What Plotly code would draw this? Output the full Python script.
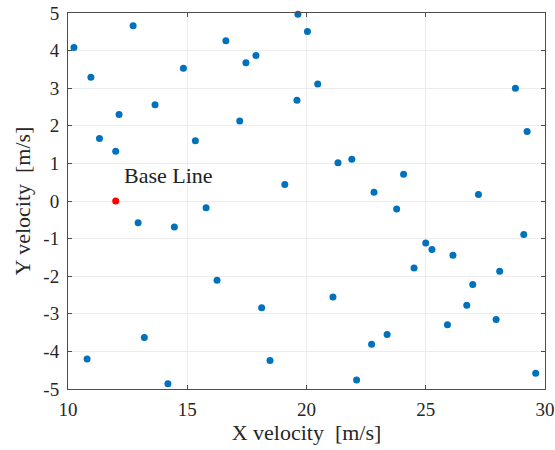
import plotly.graph_objects as go

x_vel = [10.25, 10.96, 12.73, 11.32, 12.14, 12.0, 13.65, 14.84, 15.34, 16.62, 17.46, 17.88, 17.2,
         19.64, 20.04, 20.47, 19.60, 28.76, 29.25, 21.32, 21.9, 19.09, 24.07, 22.83, 27.21,
         12.94, 14.46, 15.79, 16.25, 18.12, 13.2, 10.8, 14.19, 18.47,
         23.78, 25.0, 25.26, 26.14, 29.11, 24.51, 28.1, 26.97, 26.72, 21.11, 25.91, 27.95,
         23.38, 22.73, 22.1, 29.61]
y_vel = [4.08, 3.29, 4.66, 1.66, 2.30, 1.32, 2.56, 3.53, 1.60, 4.26, 3.68, 3.87, 2.13,
         4.97, 4.51, 3.11, 2.68, 3.0, 1.85, 1.02, 1.11, 0.44, 0.71, 0.23, 0.17,
         -0.58, -0.69, -0.18, -2.11, -2.84, -3.63, -4.20, -4.86, -4.24,
         -0.21, -1.12, -1.29, -1.44, -0.89, -1.78, -1.87, -2.22, -2.77, -2.55, -3.29, -3.15,
         -3.55, -3.81, -4.76, -4.58]
base_x = [12.0]
base_y = [0.0]
base_label = "Base Line"

x_ticks = [10, 15, 20, 25, 30]
x_ticktext = ["10", "15", "20", "25", "30"]
y_ticks = [5, 4, 3, 2, 1, 0, -1, -2, -3, -4, -5]
y_ticktext = ["5", "4", "3", "2", "1", "0", "-1", "-2", "-3", "-4", "-5"]

font = "Liberation Serif"

fig = go.Figure()
fig.add_trace(go.Scatter(x=x_vel, y=y_vel, mode="markers",
                         marker=dict(color="#0072BD", size=7), showlegend=False, cliponaxis=False))
fig.add_trace(go.Scatter(x=base_x, y=base_y, mode="markers",
                         marker=dict(color="#FF0000", size=7), showlegend=False))
fig.add_annotation(x=12.25, y=0.68, text=base_label, showarrow=False, xanchor="left",
                   yanchor="middle", font=dict(family=font, size=22, color="#222"))

axis_common = dict(showline=True, linecolor="#4d4d4d", linewidth=1, mirror="ticks",
                   ticks="inside", ticklen=4, tickcolor="#4d4d4d", automargin=False,
                   showgrid=True, gridcolor="#ececec", gridwidth=1, zeroline=False,
                   tickfont=dict(family=font, size=19, color="#262626"))

fig.update_xaxes(range=[10, 30], tickvals=x_ticks, ticktext=x_ticktext, ticklabelstandoff=3,
                 title=dict(text="X velocity\u00a0 [m/s]", font=dict(family=font, size=22, color="#262626"),
                            standoff=4), **axis_common)
fig.update_yaxes(range=[-5, 5], tickvals=y_ticks, ticktext=y_ticktext, ticklabelstandoff=4,
                 title=dict(text="Y velocity\u00a0 [m/s]", font=dict(family=font, size=22, color="#262626"),
                            standoff=6), **axis_common)

fig.update_layout(width=555, height=450, margin=dict(l=68, r=10, t=13, b=61),
                  font=dict(family=font, color="#262626"),
                  plot_bgcolor="white", paper_bgcolor="white")
fig.write_html("out.html", config={"displayModeBar": False},
               post_script="document.body.style.margin='0';")
